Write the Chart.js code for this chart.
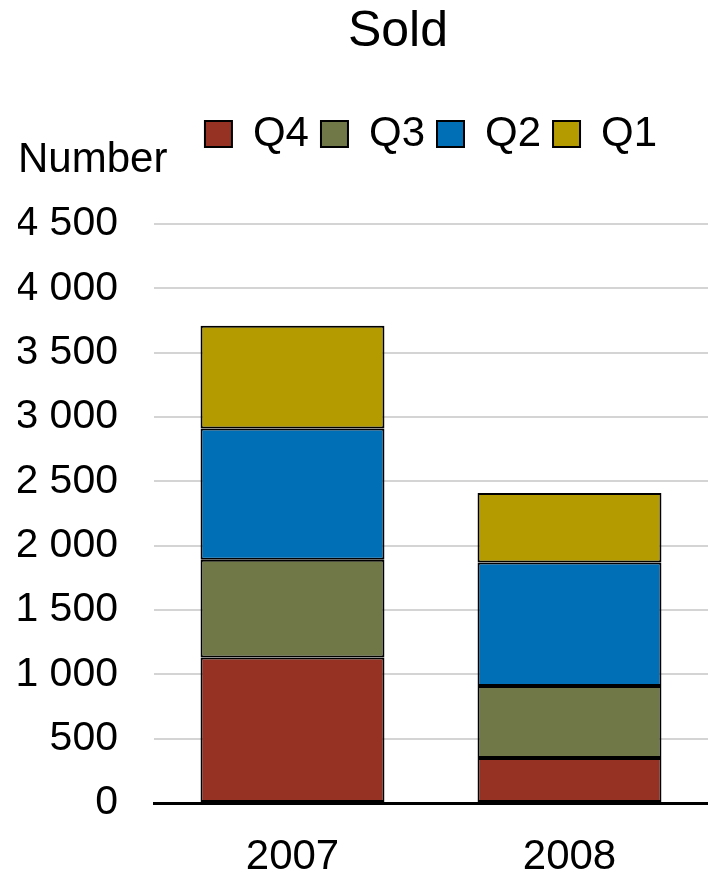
<!DOCTYPE html>
<html>
<head>
<meta charset="utf-8">
<script src="https://cdn.jsdelivr.net/npm/chart.js@4"></script>
<style>
    html, body { margin: 0; padding: 0; background: #fff; }
    #wrap { width: 708px; height: 875px; }
</style>
</head>
<body>
<div id="wrap"><canvas id="soldChart" width="708" height="875"></canvas></div>
<script>
// Data
const years = ['2007', '2008'];
const q4 = [1130, 350];
const q3 = [760, 560];
const q2 = [1020, 960];
const q1 = [800, 540];
const yTicks = [0, 500, 1000, 1500, 2000, 2500, 3000, 3500, 4000, 4500];

const FONT = '"Liberation Sans", Arial, sans-serif';

// Spaced thousands, e.g. 4 500
const fmt = v => String(v).replace(/\B(?=(\d{3})+(?!\d))/g, ' ');

// Title and the "Number" label on top of the y axis
const textPlugin = {
    id: 'extraText',
    beforeInit(chart) {
        // make room between legend and plot area
        const fitLegend = chart.legend.fit;
        chart.legend.fit = function () {
            fitLegend.bind(chart.legend)();
            this.height += 59;
        };
    },
    afterDraw(chart) {
        const c = chart.ctx;
        c.save();
        c.fillStyle = '#000';
        c.textBaseline = 'alphabetic';
        c.textAlign = 'center';
        c.font = '50px ' + FONT;
        c.fillText('Sold', 398, 46);
        c.textAlign = 'left';
        c.font = '42px ' + FONT;
        c.fillText('Number', 18, 172);
        c.restore();
    }
};

const mkSet = (label, data, color) => ({
    label: label,
    data: data,
    backgroundColor: color,
    borderColor: '#000',
    borderWidth: 2,
    borderSkipped: false,
    categoryPercentage: 0.664,
    barPercentage: 1
});

new Chart(document.getElementById('soldChart').getContext('2d'), {
    type: 'bar',
    data: {
        labels: years,
        datasets: [
            mkSet('Q4', q4, '#963224'),
            mkSet('Q3', q3, '#6f7846'),
            mkSet('Q2', q2, '#006fb6'),
            mkSet('Q1', q1, '#b39b00')
        ]
    },
    options: {
        responsive: false,
        animation: false,
        devicePixelRatio: 1,
        layout: { padding: { top: 101, left: 18, right: 0, bottom: 0 } },
        plugins: {
            title: { display: false },
            tooltip: { enabled: false },
            legend: {
                position: 'top',
                fullSize: false,
                labels: {
                    color: '#000',
                    font: { family: FONT, size: 42 },
                    boxWidth: 27,
                    boxHeight: 26,
                    padding: 12
                }
            }
        },
        scales: {
            x: {
                stacked: true,
                grid: { display: false, drawTicks: false },
                border: { display: true, color: '#000', width: 3 },
                afterFit: axis => { axis.height = 72; },
                ticks: {
                    color: '#000',
                    padding: 33,
                    font: { family: FONT, size: 42, lineHeight: 1 }
                }
            },
            y: {
                stacked: true,
                min: 0,
                max: 4500,
                border: { display: false },
                grid: {
                    color: ctx => ctx.tick && ctx.tick.value === 0 ? 'rgba(0,0,0,0)' : '#d4d4d4',
                    lineWidth: 2,
                    drawTicks: false
                },
                afterBuildTicks: axis => { axis.ticks = yTicks.map(v => ({ value: v })); },
                afterFit: axis => { axis.width = 136; },
                ticks: {
                    color: '#000',
                    padding: 36,
                    font: { family: FONT, size: 41, lineHeight: 1 },
                    callback: v => fmt(v)
                }
            }
        }
    },
    plugins: [textPlugin]
});
</script>
</body>
</html>
